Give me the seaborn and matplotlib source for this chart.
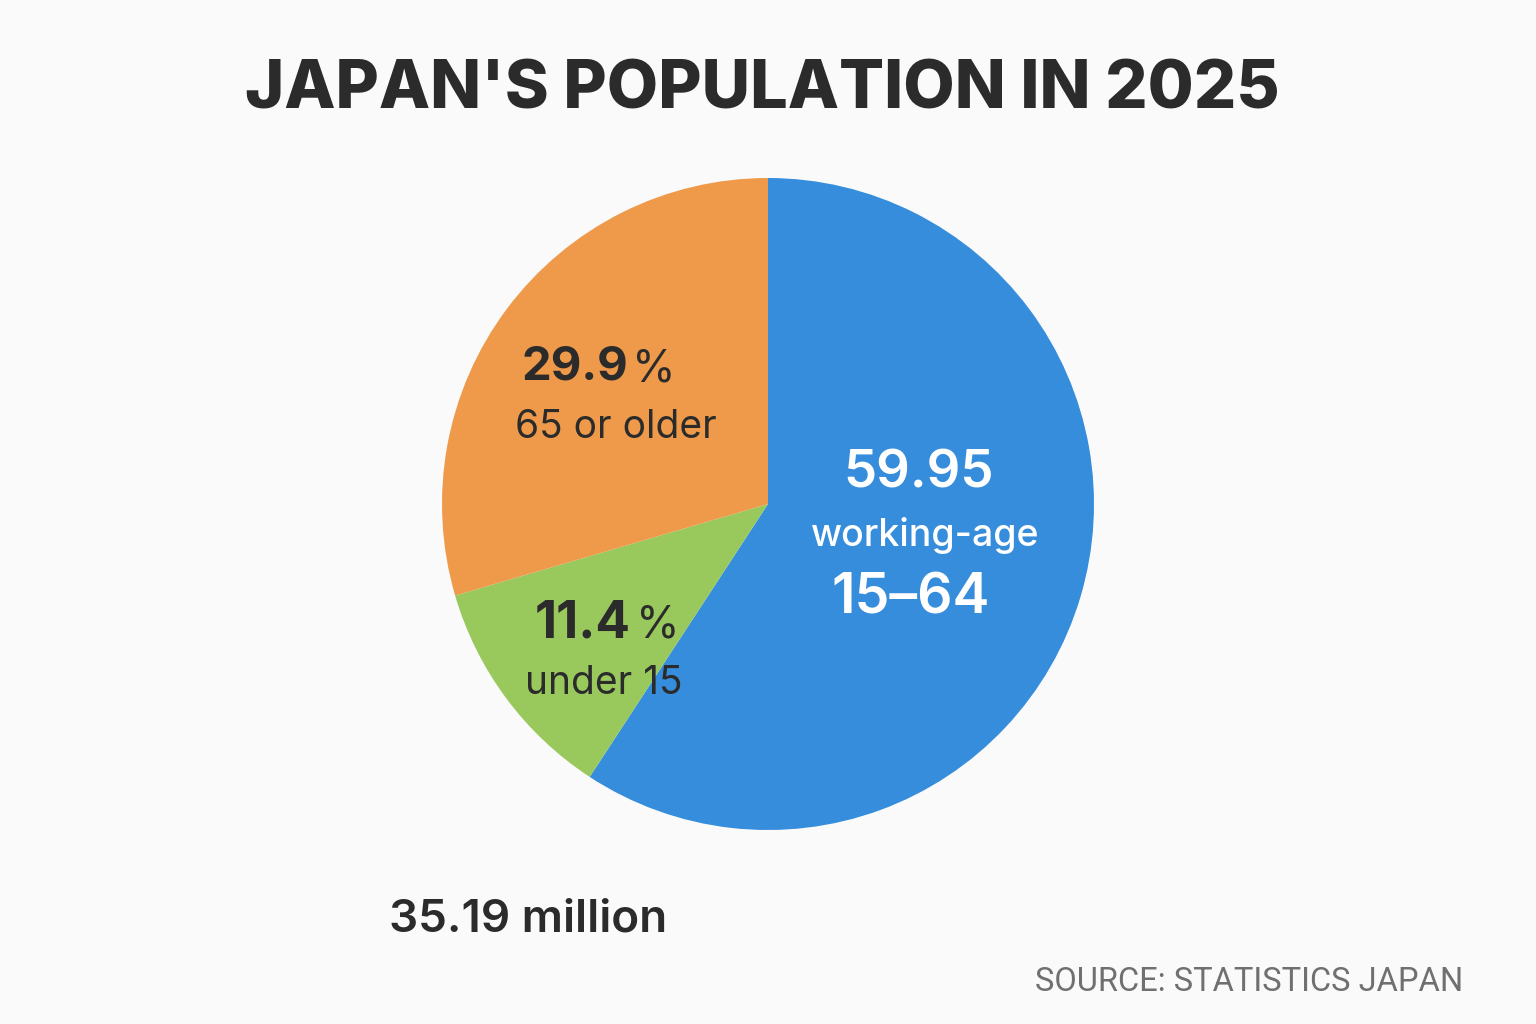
import matplotlib
matplotlib.use("Agg")
import matplotlib.pyplot as plt
import seaborn as sns

# Data
groups = ["15-64", "under 15", "65 or older"]
shares = [59.95, 11.4, 29.9]
colors = ["#368ddc", "#99c95d", "#ee9a4a"]
total_label = "35.19 million"

sns.set_theme(style="white")
plt.rcParams['font.family'] = ['Inter', 'DejaVu Sans']

W, H = 1536, 1024
fig = plt.figure(figsize=(W / 100, H / 100), dpi=100, facecolor="#fafafa")

# pie axes: center (768, 503), radius 326 px
cx, cy, r = 768, 504, 326
ax = fig.add_axes([(cx - r) / W, (H - cy - r) / H, 2 * r / W, 2 * r / H])
ax.set_facecolor("#fafafa")
ax.pie(shares, colors=colors, startangle=90, counterclock=False, radius=1,
       wedgeprops=dict(linewidth=0))
ax.set_xlim(-1, 1)
ax.set_ylim(-1, 1)
ax.axis("off")

def px(x, y):
    return x / W, 1 - y / H

dark = "#2b2b2b"

fig.text(*px(762, 91), "JAPAN'S POPULATION IN 2025", ha="center", va="center",
         fontsize=48, fontweight="heavy", color=dark)

# 65 or older
fig.text(*px(628, 367), "29.9", ha="right", va="center", fontsize=34, fontweight="bold", color=dark)
fig.text(*px(632, 369), "%", ha="left", va="center", fontsize=32, color=dark)
fig.text(*px(616, 428), "65 or older", ha="center", va="center", fontsize=28, color=dark)

# under 15
fig.text(*px(631, 624), "11.4", ha="right", va="center", fontsize=37, fontweight="bold", color=dark)
fig.text(*px(636, 626), "%", ha="left", va="center", fontsize=32, color=dark)
fig.text(*px(604, 683), "under 15", ha="center", va="center", fontsize=28, color=dark)

# working age
fig.text(*px(919, 474), "59.95", ha="center", va="center", fontsize=38, fontweight="semibold", color="white")
fig.text(*px(925, 535), "working-age", ha="center", va="center", fontsize=27, fontweight="medium", color="white")
fig.text(*px(911, 598), "15\u201364", ha="center", va="center", fontsize=40, fontweight="semibold", color="white")

fig.text(*px(528, 919), total_label, ha="center", va="center", fontsize=33, fontweight="semibold", color=dark)

fig.text(*px(1463, 982), "SOURCE: STATISTICS JAPAN", ha="right", va="center", fontsize=23.5,
         color="#707070", family=["Roboto", "DejaVu Sans"])

fig.savefig("out.png", dpi=100, facecolor=fig.get_facecolor())
